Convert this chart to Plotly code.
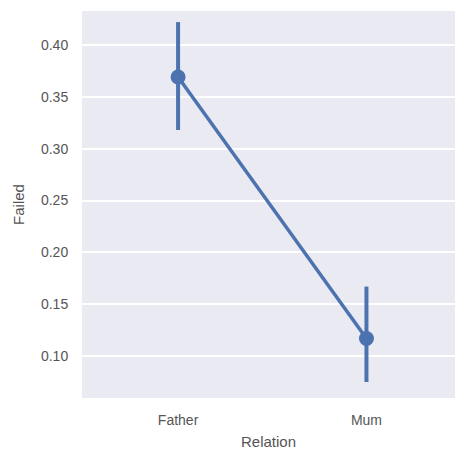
import plotly.graph_objects as go

# Share of failed students by parent relation, with 95% confidence intervals
relation = ["Father", "Mum"]
failed_mean = [0.369, 0.117]
ci_upper = [0.422, 0.167]
ci_lower = [0.318, 0.075]

err_plus = [u - m for u, m in zip(ci_upper, failed_mean)]
err_minus = [m - l for m, l in zip(failed_mean, ci_lower)]

blue = "#4C72B0"

fig = go.Figure()
fig.add_trace(go.Scatter(
    x=[0, 1],
    y=failed_mean,
    mode="lines+markers",
    line=dict(color=blue, width=3.5),
    marker=dict(color=blue, size=15),
    error_y=dict(type="data", array=err_plus, arrayminus=err_minus,
                 color=blue, thickness=4, width=0),
    showlegend=False,
))

fig.update_layout(
    width=455, height=450,
    margin=dict(l=82, r=0, t=11, b=52),
    paper_bgcolor="white",
    plot_bgcolor="#EAEAF2",
    font=dict(family="Liberation Sans, Arial, sans-serif", size=14, color="#555555"),
)
fig.update_xaxes(
    range=[-0.51, 1.47],
    tickvals=[0, 1], ticktext=relation,
    showgrid=False, zeroline=False, showline=False,
    ticks="outside", ticklen=9, tickcolor="rgba(0,0,0,0)",
    title=dict(text="Relation", standoff=10, font=dict(size=15)),
)
fig.update_yaxes(
    range=[0.0596, 0.4327],
    tickvals=[0.10, 0.15, 0.20, 0.25, 0.30, 0.35, 0.40],
    tickformat=".2f",
    showgrid=True, gridcolor="white", gridwidth=1.5,
    zeroline=False, showline=False,
    ticks="outside", ticklen=10, tickcolor="rgba(0,0,0,0)",
    title=dict(text="Failed", standoff=12, font=dict(size=15)),
)

fig.write_html("out.html")
